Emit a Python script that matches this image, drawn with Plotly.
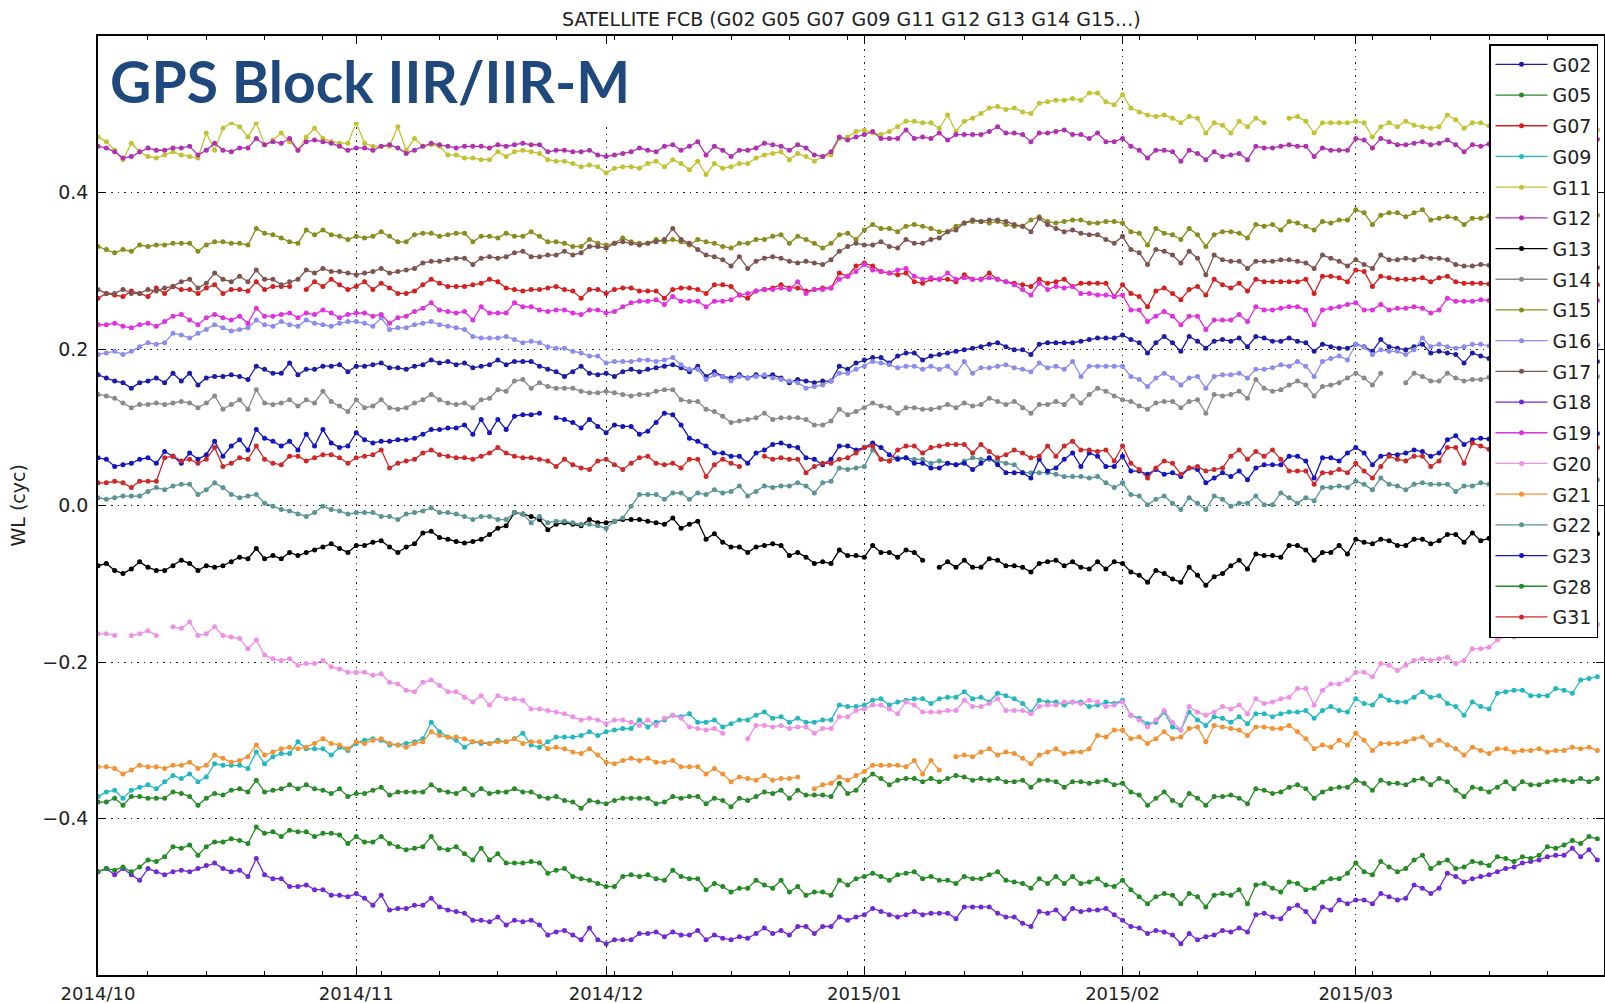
import pandas as pd
import plotly.graph_objects as go

# Daily wide-lane FCB values (units: 0.001 cycle), day 0 = 2014-10-01
start_date = "2014-10-01"
n_days = 181

G02 = [167,163,159,157,150,157,159,163,157,169,159,169,154,163,165,165,167,165,161,178,174,169,169,182,167,174,174,178,178,180,171,178,178,180,182,176,176,174,178,180,186,182,184,180,182,176,178,180,186,180,184,184,184,178,174,171,165,171,178,169,167,169,165,171,174,171,174,176,178,180,176,171,178,165,171,165,163,167,163,167,165,167,163,157,161,159,157,159,159,178,174,182,186,189,189,182,191,195,195,186,191,193,195,197,199,201,203,206,208,203,199,199,193,206,208,208,208,208,210,212,214,214,214,218,212,208,195,208,216,208,197,216,210,201,210,212,210,214,203,216,214,210,210,214,210,208,197,206,203,201,201,206,203,197,212,203,201,199,203,206,195,197,195,193,182,195,191,188,192,186,190,184,187,183,186,181,184,188,183,186,184]
G05 = [-379,-379,-374,-383,-372,-372,-374,-374,-374,-366,-368,-372,-383,-374,-368,-370,-364,-362,-366,-351,-366,-364,-362,-357,-362,-357,-362,-364,-368,-362,-372,-368,-368,-364,-360,-370,-366,-366,-366,-366,-357,-364,-366,-368,-362,-370,-362,-368,-366,-366,-362,-366,-366,-372,-374,-372,-377,-379,-387,-377,-379,-381,-377,-374,-374,-374,-374,-381,-379,-372,-374,-372,-372,-381,-374,-377,-385,-374,-377,-372,-366,-368,-364,-374,-364,-370,-370,-370,-372,-355,-368,-364,-351,-343,-349,-357,-351,-349,-349,-353,-349,-353,-349,-345,-347,-351,-349,-351,-349,-353,-353,-351,-360,-351,-351,-353,-360,-353,-353,-355,-353,-351,-357,-355,-366,-370,-383,-374,-366,-377,-383,-368,-374,-383,-372,-372,-370,-374,-381,-362,-364,-368,-366,-360,-357,-362,-374,-366,-362,-360,-360,-351,-355,-364,-351,-355,-355,-357,-351,-349,-357,-349,-353,-364,-372,-360,-362,-366,-360,-353,-362,-353,-357,-357,-353,-351,-351,-353,-349,-353,-349]
G07 = [265,271,269,267,274,271,267,278,271,280,276,276,271,278,282,271,276,276,274,286,276,280,280,280,None,276,286,280,289,282,276,280,286,276,284,278,271,271,274,282,289,284,280,280,280,282,284,289,286,278,276,274,276,276,278,280,276,274,265,276,276,271,276,278,278,274,274,274,265,276,278,278,276,271,282,282,280,269,265,274,276,278,282,278,278,274,276,278,278,297,293,306,310,306,299,297,295,297,286,284,289,289,289,286,295,289,289,297,289,286,284,282,280,289,284,286,289,280,284,284,284,284,267,282,271,267,254,274,278,271,263,276,280,269,289,282,278,284,274,289,286,286,286,286,286,289,271,293,293,291,286,301,299,280,293,291,289,289,289,291,286,291,293,286,284,284,284,283,286,282,284,281,285,283,280,284,282,285,281,283,282]
G09 = [-372,-366,-364,-374,-364,-360,-357,-362,-353,-345,-349,-343,-353,-347,-330,-332,-332,-332,-336,-315,-330,-321,-317,-317,-302,-311,-311,-311,-319,-309,-313,-304,-300,-298,-300,-306,-306,-304,-302,-298,-277,-289,-296,-300,-309,-302,-304,-304,-300,-302,-298,-291,-306,-309,-302,-296,-296,-296,-294,-289,-294,-289,-287,-285,-285,-274,-283,-277,-274,-268,-270,-266,-277,-277,-274,-283,-279,-274,-274,-268,-264,-272,-270,-277,-272,-277,-277,-274,-274,-255,-257,-257,-255,-249,-247,-255,-251,-249,-247,-247,-253,-247,-245,-245,-238,-247,-245,-251,-240,-243,-247,-253,-264,-249,-251,-251,-255,-251,-251,-257,-255,-251,-253,-249,-268,-272,-279,-277,-264,-283,-287,-264,-274,-281,-270,-272,-277,-270,-279,-266,-266,-270,-266,-264,-264,-262,-272,-262,-257,-262,-264,-247,-253,-255,-243,-249,-251,-251,-245,-238,-245,-243,-253,-257,-268,-251,-257,-260,-240,-238,-236,-236,-243,-243,-243,-234,-236,-240,-223,-221,-219]
G11 = [471,465,454,442,463,452,446,444,448,452,448,446,444,476,454,482,489,484,471,489,461,467,476,465,454,471,482,469,465,463,463,489,463,459,459,459,484,454,469,459,461,459,448,448,444,444,442,442,452,446,452,454,452,450,442,440,440,437,433,435,433,425,431,433,433,431,437,440,433,442,437,429,440,423,437,431,433,437,437,444,448,450,452,442,450,446,440,446,448,469,471,478,480,476,474,478,484,491,491,489,489,482,499,478,491,495,501,508,510,506,508,503,501,514,516,518,518,520,518,527,527,516,512,525,508,503,499,497,499,495,489,497,495,476,489,486,476,491,484,495,489,None,None,495,497,491,476,489,489,489,489,491,489,471,484,489,484,491,486,484,482,484,499,493,482,489,489,485,482,488,484,480,486,483,479,485,482,478,484,481,480]
G12 = [459,457,452,444,446,452,457,454,454,457,457,459,448,454,463,454,452,457,457,469,461,465,463,469,454,465,467,465,463,459,454,457,457,454,459,461,457,450,454,459,463,461,459,457,459,459,459,457,461,459,461,463,461,461,452,454,454,452,452,454,448,446,448,450,452,457,454,452,459,461,454,459,465,448,459,454,446,454,454,457,463,461,459,454,461,457,448,446,452,471,467,471,474,478,469,469,469,480,469,471,469,476,467,474,474,474,474,478,484,476,476,474,465,476,476,478,480,474,474,469,476,465,465,469,459,454,444,454,454,452,440,454,450,442,452,446,448,450,442,459,457,457,459,461,459,459,446,457,454,454,454,469,467,457,469,465,461,461,463,465,461,463,467,461,452,461,459,462,466,463,467,464,468,465,470,466,468,471,467,470,468]
G13 = [-77,-74,-83,-87,-81,-72,-79,-83,-83,-77,-70,-74,-83,-77,-79,-77,-72,-66,-68,-55,-68,-64,-68,-60,-64,-60,-57,-53,-49,-55,-60,-51,-51,-47,-45,-53,-60,-53,-49,-35,-33,-41,-43,-46,-48,-46,-43,-37,-29,-26,-9,-11,-14,-18,-31,-24,-22,-24,-26,-18,-22,-22,-20,-18,-18,-18,-20,-22,-24,-16,-29,-24,-20,-43,-36,-47,-53,-53,-60,-53,-51,-49,-51,-64,-60,-66,-74,-72,-74,-57,-64,-64,-66,-51,-60,-60,-66,-57,-60,-70,None,-79,-72,-79,-70,-79,-79,-68,-70,-77,-77,-79,-85,-74,-72,-70,-77,-72,-79,-81,-72,-81,-72,-74,-85,-89,-98,-83,-87,-94,-98,-79,-89,-102,-91,-87,-77,-70,-81,-62,-64,-64,-66,-51,-51,-57,-70,-60,-60,-51,-62,-43,-47,-49,-43,-45,-51,-51,-43,-43,-49,-45,-37,-37,-47,-35,-45,-42,-38,-44,-40,-36,-41,-38,-43,-39,-35,-40,-37,-33,-36]
G14 = [142,140,137,131,125,129,129,131,129,131,133,131,125,131,140,123,129,135,123,148,131,129,131,135,127,135,131,146,133,127,120,135,125,127,135,125,123,125,131,135,142,135,131,129,131,125,135,137,148,146,159,161,150,157,152,150,150,150,146,144,144,146,144,142,140,142,142,146,148,148,135,133,133,123,120,114,106,108,110,112,118,110,112,112,112,110,103,103,108,123,116,120,125,131,127,125,118,125,125,123,123,125,129,125,131,127,129,137,133,129,133,125,118,129,129,133,129,140,131,142,150,146,140,135,133,127,123,131,133,133,125,133,135,118,142,140,142,146,137,161,150,146,148,154,159,154,140,152,154,157,163,169,163,154,169,None,None,157,169,165,159,159,169,163,159,161,161,164,160,166,162,165,161,167,163,160,165,162,166,163,165]
G15 = [331,327,323,327,325,333,331,333,333,335,335,335,325,333,337,337,335,335,333,354,348,346,342,337,335,352,346,352,346,344,340,344,342,344,350,344,337,337,346,348,348,344,346,348,348,337,344,344,342,348,344,344,350,344,337,337,335,331,331,340,335,333,335,342,337,335,335,340,337,340,337,333,340,337,335,331,329,335,335,340,340,344,346,335,344,340,335,329,335,346,348,340,352,359,354,354,350,357,359,357,354,350,350,357,361,363,363,361,363,359,357,357,365,369,363,361,363,365,365,361,361,363,363,361,350,348,333,354,348,346,340,354,346,331,346,350,350,348,342,359,357,359,352,363,361,357,352,363,361,365,365,378,374,359,371,374,374,369,374,378,365,367,369,367,359,367,367,370,366,372,368,371,369,373,370,368,372,369,371,370,371]
G16 = [193,195,197,193,197,203,208,206,208,220,218,214,220,225,231,227,223,225,227,237,231,229,235,231,229,237,233,231,229,233,235,235,233,229,240,225,227,227,231,233,235,231,229,227,225,216,214,214,214,216,212,208,210,208,203,201,201,197,195,191,191,182,184,184,184,186,186,184,186,189,180,174,174,161,167,165,159,165,163,165,167,163,161,159,157,150,152,154,159,169,169,174,178,184,182,180,176,178,178,174,178,174,178,169,184,169,176,176,178,180,176,174,171,182,176,178,174,184,165,178,178,178,178,178,165,161,152,163,169,163,154,163,165,150,165,167,167,169,163,174,174,176,180,178,184,178,165,184,188,191,186,206,203,193,199,197,197,193,199,214,203,206,203,201,203,206,206,204,207,203,205,202,206,204,201,205,203,206,202,204,205]
G17 = [276,271,271,276,271,271,276,274,278,280,286,289,278,284,297,289,286,293,286,301,289,289,282,286,289,301,297,303,299,299,297,295,297,299,303,297,299,301,303,310,312,312,314,316,316,308,316,318,316,318,323,325,318,318,320,320,325,320,323,331,331,329,335,337,335,333,335,337,340,354,340,335,327,320,318,314,306,318,303,312,316,318,316,312,310,312,310,308,314,325,331,335,333,333,337,331,329,340,335,335,340,342,350,352,361,365,363,365,365,363,359,357,350,367,359,354,350,352,348,346,346,340,335,344,327,323,308,327,325,320,310,325,316,295,320,314,312,312,303,312,312,312,314,314,312,310,303,320,316,312,306,314,308,303,320,314,314,316,314,318,316,316,314,308,306,306,308,307,305,308,306,304,307,305,303,306,304,302,305,303,304]
G18 = [-468,-464,-472,-464,-472,-479,-464,-468,-472,-468,-466,-468,-464,-460,-457,-464,-468,-466,-474,-451,-472,-477,-477,-487,-487,-485,-491,-491,-498,-498,-500,-496,-502,-511,-498,-517,-515,-515,-511,-511,-502,-513,-517,-519,-521,-530,-530,-532,-526,-536,-530,-532,-530,-536,-549,-545,-543,-549,-555,-540,-555,-560,-555,-555,-555,-547,-547,-545,-551,-545,-549,-549,-543,-555,-549,-553,-555,-551,-553,-547,-540,-547,-543,-549,-538,-538,-547,-538,-538,-526,-530,-526,-523,-515,-519,-523,-526,-523,-519,-523,-521,-521,-521,-528,-513,-513,-513,-513,-521,-526,-526,-534,-538,-519,-521,-517,-528,-515,-519,-517,-517,-515,-523,-530,-538,-540,-547,-543,-545,-549,-560,-547,-555,-551,-549,-543,-545,-540,-545,-523,-521,-526,-528,-515,-511,-519,-532,-513,-517,-504,-509,-504,-504,-509,-496,-500,-504,-502,-485,-489,-496,-489,-470,-474,-481,-477,-474,-472,-468,-464,-462,-457,-455,-453,-449,-447,-447,-438,-449,-440,-453]
G19 = [231,231,233,229,227,231,233,229,235,242,244,237,231,240,244,240,237,242,233,252,242,242,244,246,240,246,244,250,246,240,244,246,246,242,244,233,240,242,248,252,259,250,248,246,248,237,254,246,246,246,259,254,254,250,248,250,250,246,244,250,250,246,248,254,259,261,261,263,257,267,261,261,261,254,261,261,263,269,271,274,276,276,278,276,286,271,276,276,278,289,293,299,308,301,299,297,301,303,293,289,291,289,297,289,291,289,289,291,289,286,282,276,269,284,276,280,278,280,271,271,269,269,267,269,250,250,235,242,248,242,231,242,242,225,237,237,237,244,235,254,250,250,252,254,254,250,231,250,252,254,257,259,250,250,257,250,252,252,254,252,246,250,265,261,261,261,263,262,259,263,260,264,261,258,262,260,263,259,261,264,262]
G20 = [-164,-164,-166,None,-166,-164,-160,-166,None,-155,-157,-149,-166,-164,-155,-166,-168,-170,-183,-172,-191,-196,-198,-196,-204,-202,-202,-198,-206,-209,-213,-213,-213,-217,-215,-226,-228,-236,-238,-226,-223,-230,-238,-238,-245,-251,-243,-255,-243,-247,-247,-249,-260,-260,-262,-264,-266,-270,-274,-272,-274,-279,-274,-274,-277,-281,-274,-281,-272,-268,-272,-283,-285,-287,-285,-291,None,None,-298,-281,-281,-283,-281,-285,-283,-283,-291,-285,-285,-270,-270,-262,-260,-255,-255,-260,-266,-251,-255,-264,-264,-264,-262,-262,-249,-257,-257,-253,-247,-262,-262,-262,-266,-257,-255,-255,-251,-251,-253,-249,-251,-257,-255,-251,-268,-274,-283,-274,-262,-277,-287,-257,-264,-268,-264,-257,-260,-255,-266,-247,-253,-251,-247,-245,-234,-234,-255,-236,-228,-228,-223,-213,-213,-219,-202,-204,-211,-204,-198,-196,-198,-196,-194,-202,-198,-183,-183,-181,-172,-166,-168,-166,-164,-162,-164,-160,-158,-160,-155,-153,-152]
G21 = [-334,-334,-336,-343,-338,-332,-334,-334,-336,-332,-332,-328,-336,-332,-319,-323,-328,-326,-321,-306,-319,-315,-311,-309,-311,-309,-304,-298,-304,-306,-311,-302,-304,-300,-298,-304,-306,-309,-304,-302,-289,-294,-296,-296,-298,-302,-302,-304,-302,-302,-298,-304,-302,-302,-311,-309,-311,-315,-317,-311,-319,-328,-330,-326,-323,-326,-323,-328,-328,-326,-334,-334,-334,-343,-336,-343,-353,-347,-349,-351,-345,-351,-349,-349,-347,None,-362,-357,-355,-347,-351,-345,-340,-332,-332,-332,-332,-334,-326,-343,-326,-338,None,-321,-319,-321,-315,-311,-319,-315,-317,-323,-330,-319,-315,-311,-317,-315,-315,-311,-294,-296,-287,-287,-298,-296,-304,-298,-289,-298,-296,-285,-283,-302,-281,-283,-285,-287,-294,-283,-283,-285,-285,-281,-289,-298,-311,-306,-309,-300,-306,-291,-300,-313,-304,-304,-304,-302,-298,-296,-306,-300,-306,-311,-319,-309,-313,-317,-311,-311,-315,-313,-313,-311,-315,-313,-313,-309,-311,-309,-313]
G22 = [10,8,10,12,12,12,18,23,20,25,27,27,14,20,29,23,14,10,12,14,3,-1,-5,-7,-11,-14,-9,-1,-5,-7,-11,-9,-9,-9,-14,-14,-18,-11,-9,-7,-3,-9,-9,-11,-14,-18,-14,-14,-18,-18,-9,-11,-22,-14,-22,-20,-20,-22,-24,-24,-26,-29,-20,-16,-1,14,14,14,8,16,16,8,16,14,20,16,18,25,12,18,25,23,25,25,29,25,16,29,31,48,46,48,50,71,59,57,61,61,59,59,54,57,54,52,57,61,59,59,57,54,52,42,42,42,42,40,37,37,37,35,37,29,23,29,14,12,1,8,12,3,-5,10,3,-5,12,8,-1,3,3,12,1,1,16,10,3,10,6,23,23,25,23,31,27,20,35,27,25,20,27,29,27,27,27,18,25,25,29,27,30,26,29,31,28,32,30,33,31,34,32,35,33]
G23 = [61,59,50,52,54,59,61,54,69,63,54,67,59,65,82,63,76,84,71,97,86,82,76,82,71,91,76,97,80,74,76,93,84,80,82,82,84,84,86,91,97,97,99,99,103,91,110,93,110,97,114,116,116,118,None,112,110,106,99,110,101,93,103,101,101,91,95,106,118,116,103,86,82,76,67,67,63,63,54,67,71,78,80,76,74,61,59,52,59,76,76,71,74,80,74,65,59,61,54,54,48,48,54,52,54,46,54,61,52,42,42,42,35,59,44,48,59,67,50,67,63,50,50,63,44,44,40,46,40,42,37,48,46,29,35,42,37,44,33,48,52,52,52,63,63,57,35,61,61,57,67,74,67,52,63,65,65,67,71,69,63,67,84,89,78,84,86,85,88,83,87,84,89,86,90,87,85,91,88,90,92]
G28 = [-468,-464,-466,-462,-468,-462,-453,-455,-449,-436,-438,-434,-447,-436,-430,-430,-426,-428,-432,-411,-419,-417,-423,-415,-417,-417,-423,-419,-419,-421,-432,-423,-430,-430,-423,-432,-436,-440,-438,-436,-423,-438,-440,-436,-445,-453,-438,-453,-445,-457,-457,-457,-455,-457,-470,-466,-464,-474,-477,-479,-483,-487,-487,-474,-472,-474,-472,-477,-479,-466,-474,-477,-477,-491,-483,-487,-494,-489,-489,-479,-485,-489,-479,-494,-487,-498,-494,-494,-498,-479,-485,-477,-474,-470,-474,-479,-472,-470,-468,-477,-474,-479,-479,-483,-474,-477,-477,-472,-468,-479,-481,-483,-489,-477,-483,-474,-483,-474,-483,-481,-477,-485,-487,-479,-491,-500,-509,-500,-496,-498,-509,-496,-500,-513,-498,-496,-498,-491,-509,-485,-483,-489,-494,-481,-483,-491,-489,-481,-477,-477,-470,-457,-468,-472,-455,-462,-468,-464,-453,-447,-464,-457,-453,-464,-462,-455,-457,-460,-449,-451,-455,-449,-451,-447,-436,-438,-434,-428,-432,-423,-426]
G31 = [29,29,31,29,23,31,31,31,61,63,57,59,54,59,74,50,54,61,59,76,59,54,52,63,63,57,61,65,65,61,54,61,63,65,71,48,54,57,59,67,71,65,63,61,61,59,63,67,74,67,63,61,61,59,57,50,59,52,48,46,57,59,52,46,54,61,63,54,52,54,48,59,59,37,52,59,54,50,None,None,63,59,61,59,59,42,50,54,54,59,61,67,74,76,59,57,71,76,76,67,74,76,78,78,78,67,78,69,61,65,71,67,61,63,76,63,76,82,71,71,69,71,57,76,54,46,35,48,57,54,40,48,50,44,46,48,63,71,59,69,63,71,59,44,44,44,27,42,42,46,42,54,44,35,50,63,59,57,63,63,50,57,74,74,54,80,76,72,78,74,77,73,79,75,71,76,74,78,72,76,74]

satellites = ["G02","G05","G07","G09","G11","G12","G13","G14","G15","G16",
              "G17","G18","G19","G20","G21","G22","G23","G28","G31"]
series = [G02,G05,G07,G09,G11,G12,G13,G14,G15,G16,G17,G18,G19,G20,G21,G22,G23,G28,G31]
colors = ["#1c1ca8","#2a8a2a","#d62020","#22b8c0","#c3c232","#b030b0","#000000",
          "#8a8a8a","#8b8b1e","#8c8cec","#7d5450","#7028d8","#e030e0","#ee90e8",
          "#f39233","#5a9496","#1515c0","#238b23","#d02828"]

month_ticks = ["2014-10-01","2014-11-01","2014-12-01","2015-01-01","2015-02-01","2015-03-01"]
month_labels = ["2014/10","2014/11","2014/12","2015/01","2015/02","2015/03"]
y_ticks = [-0.4, -0.2, 0.0, 0.2, 0.4]

title_text = "SATELLITE FCB (G02 G05 G07 G09 G11 G12 G13 G14 G15...)"
overlay_text = "GPS Block IIR/IIR-M"
y_title = "WL (cyc)"

dates = pd.date_range(start_date, periods=n_days, freq="D")

fig = go.Figure()
for name, vals, col in zip(satellites, series, colors):
    y = [None if v is None else v / 1000.0 for v in vals]
    fig.add_trace(go.Scatter(
        x=dates[:len(y)], y=y, name=name, mode="lines+markers",
        line=dict(color=col, width=1.3),
        marker=dict(color=col, size=5),
        connectgaps=False, legendgroup=name,
    ))

W, H = 1605, 1003
L, R, T, B = 98, 1, 36, 28
pw, ph = W - L - R, H - T - B

def px_x(xp):
    return (xp - L) / pw

def px_y(yp):
    return (H - B - yp) / ph

font_main = "DejaVu Sans"
grid_dash = "1.5px,5px"

fig.update_layout(
    width=W, height=H, autosize=False,
    margin=dict(l=L, r=R, t=T, b=B, pad=0, autoexpand=False),
    paper_bgcolor="white", plot_bgcolor="white",
    font=dict(family=font_main, size=19, color="#222222"),
    showlegend=True,
    legend=dict(
        x=px_x(1598), y=px_y(44), xanchor="right", yanchor="top",
        bgcolor="white", bordercolor="black", borderwidth=1.5,
        font=dict(family=font_main, size=19, color="#222222"),
        tracegroupgap=3, itemwidth=52,
    ),
    xaxis=dict(
        type="date", range=["2014-10-01", "2015-03-30 19:12"],
        automargin=False,
        showline=True, linecolor="black", linewidth=1.5, mirror="allticks",
        ticks="inside", ticklen=8, tickwidth=1, tickcolor="black",
        tickvals=month_ticks, ticktext=month_labels,
        tickfont=dict(family=font_main, size=18, color="#222222"),
        ticklabelstandoff=2,
        showgrid=True, gridcolor="#222222", gridwidth=1, griddash=grid_dash,
        zeroline=False,
        minor=dict(ticks="inside", ticklen=4, tickwidth=1, tickcolor="black",
                   dtick=7 * 86400000, tick0="2014-10-07", showgrid=False),
    ),
    yaxis=dict(
        range=[-0.6, 0.6], automargin=False,
        showline=True, linecolor="black", linewidth=1.5, mirror="allticks",
        ticks="inside", ticklen=8, tickwidth=1, tickcolor="black",
        tickvals=y_ticks, tickformat=".1f",
        tickfont=dict(family=font_main, size=19, color="#222222"),
        ticklabelstandoff=4,
        showgrid=True, gridcolor="#222222", gridwidth=1, griddash=grid_dash,
        zeroline=False,
    ),
    shapes=[dict(type="rect", xref="paper", yref="paper",
                 x0=px_x(100), x1=px_x(645), y0=px_y(122), y1=px_y(44),
                 fillcolor="white", line=dict(width=0), layer="above")],
    annotations=[
        dict(text=title_text, xref="paper", yref="paper", x=0.5, y=px_y(19),
             xanchor="center", yanchor="middle", showarrow=False,
             font=dict(family=font_main, size=19, color="#222222")),
        dict(text=y_title, xref="paper", yref="paper", x=px_x(17), y=0.5,
             xanchor="center", yanchor="middle", textangle=-90, showarrow=False,
             font=dict(family=font_main, size=19, color="#222222")),
        dict(text="<b>" + overlay_text + "</b>", xref="paper", yref="paper",
             x=px_x(108), y=px_y(81), xanchor="left", yanchor="middle",
             showarrow=False,
             font=dict(family="Lato", size=57, color="#1F497D")),
    ],
)

# remove the browser's default 8px body margin so the figure sits at the page origin
fig.write_html("out.html",
               config={"displayModeBar": False},
               post_script="document.body.style.margin='0';document.body.style.overflow='hidden';")
